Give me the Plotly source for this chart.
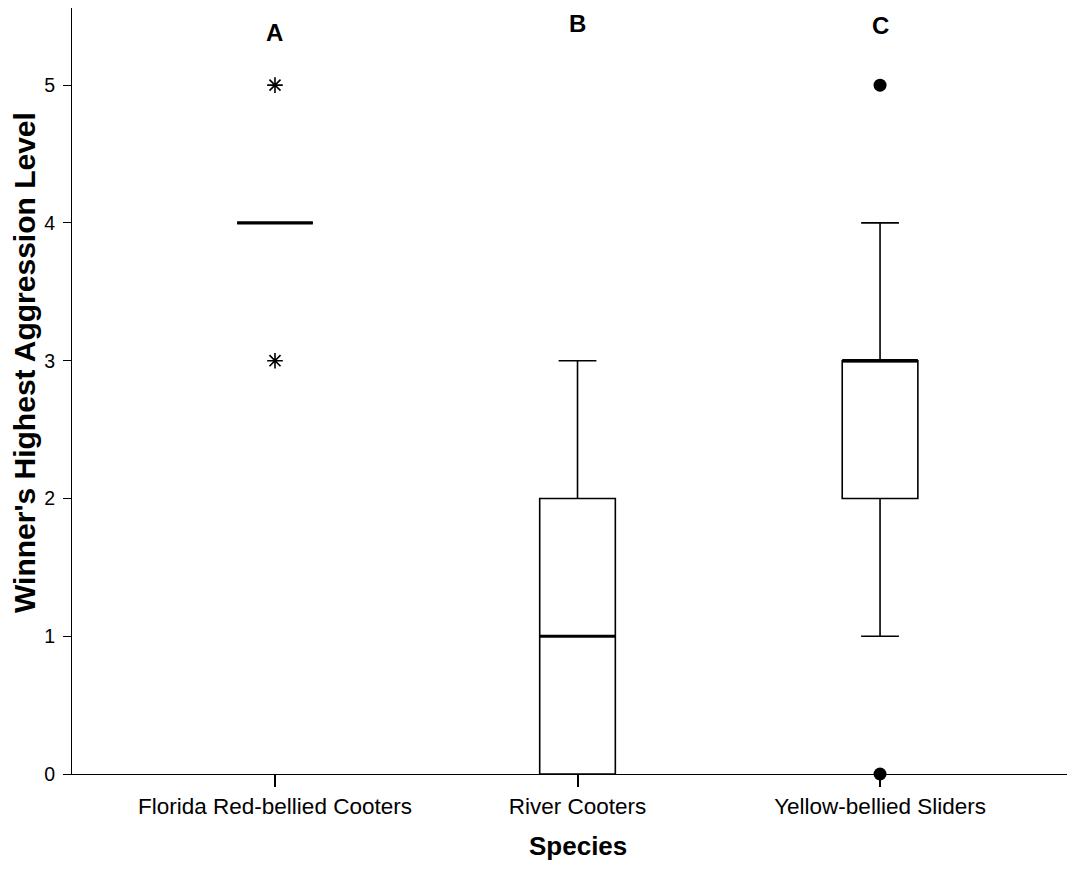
import plotly.graph_objects as go

categories = ["Florida Red-bellied Cooters", "River Cooters", "Yellow-bellied Sliders"]
q1 = [4, 0, 2]
median = [4, 1, 3]
q3 = [4, 2, 3]
lower_whisker = [4, 0, 1]
upper_whisker = [4, 3, 4]
group_letters = ["A", "B", "C"]
letter_y = [5.385, 5.45, 5.435]

extreme_x = ["Florida Red-bellied Cooters", "Florida Red-bellied Cooters"]
extreme_y = [5, 3]
outlier_x = ["Yellow-bellied Sliders", "Yellow-bellied Sliders"]
outlier_y = [5, 0]

font_family = "Liberation Sans, Arial, sans-serif"
box_w = 0.25

fig = go.Figure()
fig.add_trace(go.Box(
    x=categories, q1=q1, median=median, q3=q3,
    lowerfence=lower_whisker, upperfence=upper_whisker,
    width=box_w, whiskerwidth=0.5,
    line=dict(color="black", width=1.6),
    fillcolor="white", boxpoints=False, showlegend=False,
    hoverinfo="skip",
))
# thicker median lines
for i, m in enumerate(median):
    fig.add_trace(go.Scatter(
        x=[i - box_w / 2, i + box_w / 2], y=[m, m], mode="lines",
        line=dict(color="black", width=3.2), showlegend=False,
        hoverinfo="skip", xaxis="x2",
    ))
fig.add_trace(go.Scatter(
    x=extreme_x, y=extreme_y, mode="markers",
    marker=dict(symbol="asterisk-open", size=13, color="black",
                line=dict(color="black", width=1.6)),
    showlegend=False, cliponaxis=False,
))
fig.add_trace(go.Scatter(
    x=outlier_x, y=outlier_y, mode="markers",
    marker=dict(symbol="circle", size=13, color="black"),
    showlegend=False, cliponaxis=False,
))
for c, t, ly in zip(categories, group_letters, letter_y):
    fig.add_annotation(x=c, y=ly, text="<b>%s</b>" % t, showarrow=False,
                       font=dict(size=24, color="black", family=font_family))

fig.add_annotation(xref="paper", yref="paper", x=-0.0472, y=0.5366,
                   text="<b>Winner's Highest Aggression Level</b>", textangle=-90,
                   showarrow=False, xanchor="center", yanchor="middle",
                   font=dict(size=30, color="black", family=font_family))
fig.add_annotation(xref="x", yref="paper", x=1, y=-0.094,
                   text="<b>Species</b>", showarrow=False,
                   xanchor="center", yanchor="middle",
                   font=dict(size=26, color="black", family=font_family))

xr = [-0.671, 2.618]
fig.update_layout(
    width=1059, height=853,
    margin=dict(l=64, r=0, t=0, b=87),
    plot_bgcolor="white", paper_bgcolor="white",
    font=dict(family=font_family, color="black", size=18),
    xaxis=dict(
        type="category", range=xr, showgrid=False, zeroline=False,
        showline=True, linecolor="black", linewidth=1,
        ticks="outside", ticklen=12, tickcolor="black", tickwidth=1.5,
        tickfont=dict(size=22.5),
    ),
    xaxis2=dict(overlaying="x", range=xr, visible=False),
    yaxis=dict(
        range=[0, 5.56], showgrid=False, zeroline=False,
        showline=True, linecolor="black", linewidth=1,
        ticks="outside", ticklen=8, tickcolor="black", tickwidth=1,
        ticklabelstandoff=4,
        tickvals=[0, 1, 2, 3, 4, 5], tickfont=dict(size=19.5),
    ),
)
fig.write_html("out.html")
